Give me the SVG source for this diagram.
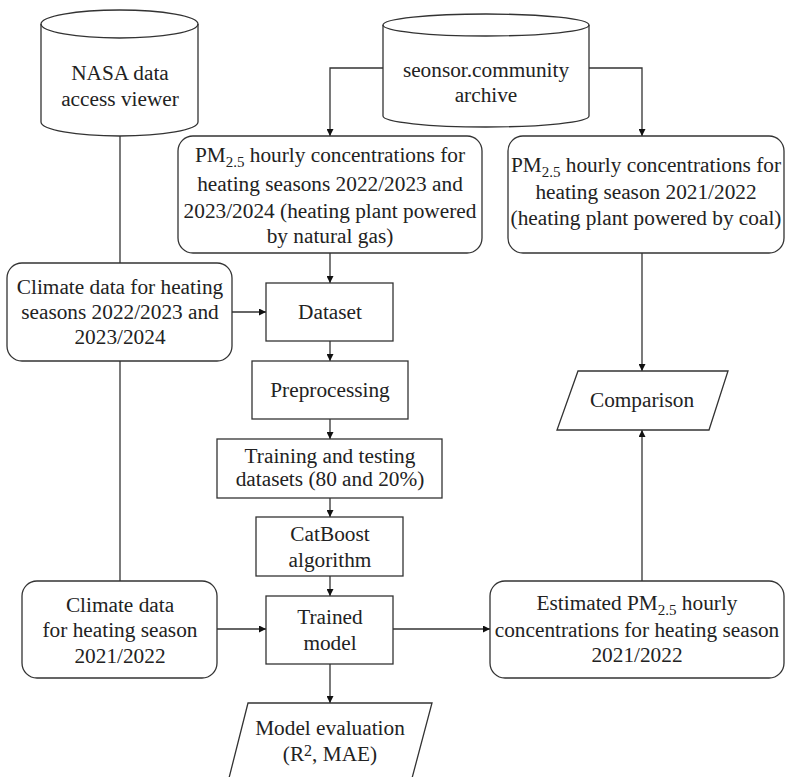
<svg xmlns="http://www.w3.org/2000/svg" width="786" height="777" viewBox="0 0 786 777" font-family="'Liberation Serif', 'Times New Roman', serif">
<style>
.s{fill:#fff;stroke:#333;stroke-width:1.3}
.c{fill:none;stroke:#333;stroke-width:1.3}
text{font-family:"Liberation Serif","Times New Roman",serif;font-size:21.3px;fill:#222;text-anchor:middle}
.sub{font-size:15px}
.sup{font-size:16px}
</style>
<defs>
<marker id="a" viewBox="0 0 10 10" refX="10" refY="5" markerWidth="7" markerHeight="7" markerUnits="userSpaceOnUse" orient="auto">
<path d="M0,0L10,5L0,10z" fill="#111"/>
</marker>
</defs>
<rect width="786" height="777" fill="#fff"/>
<g id="connectors">
<path class="c" d="M120,136V581"/>
<path class="c" d="M383,68H330V136" marker-end="url(#a)"/>
<path class="c" d="M589,68H642V136" marker-end="url(#a)"/>
<path class="c" d="M330,253V283" marker-end="url(#a)"/>
<path class="c" d="M232,312H266" marker-end="url(#a)"/>
<path class="c" d="M330,341V361" marker-end="url(#a)"/>
<path class="c" d="M330,419V439" marker-end="url(#a)"/>
<path class="c" d="M330,498V517" marker-end="url(#a)"/>
<path class="c" d="M330,576V596" marker-end="url(#a)"/>
<path class="c" d="M217,629H266" marker-end="url(#a)"/>
<path class="c" d="M393,629H490" marker-end="url(#a)"/>
<path class="c" d="M330,664V703" marker-end="url(#a)"/>
<path class="c" d="M642,253V371" marker-end="url(#a)"/>
<path class="c" d="M642,581V430" marker-end="url(#a)"/>
</g>
<g id="nasa">
<path class="s" d="M41,24A78.5,14 0 0 1 198,24V122A78.5,14 0 0 1 41,122Z"/>
<path class="c" d="M41,24A78.5,14 0 0 0 198,24"/>
<text x="120" y="80">NASA data</text>
<text x="120" y="106">access viewer</text>
</g>
<g id="sensor">
<path class="s" d="M383,25A103,11 0 0 1 589,25V116A103,11 0 0 1 383,116Z"/>
<path class="c" d="M383,25A103,11 0 0 0 589,25"/>
<text x="486" y="77">seonsor.community</text>
<text x="486" y="102">archive</text>
</g>
<g id="pm-gas">
<rect class="s" x="178" y="136" width="304" height="117" rx="15"/>
<text x="330" y="162">PM<tspan class="sub" dy="5">2.5</tspan><tspan dy="-5"> hourly concentrations for</tspan></text>
<text x="330" y="191">heating seasons 2022/2023 and</text>
<text x="330" y="218">2023/2024 (heating plant powered</text>
<text x="330" y="243">by natural gas)</text>
</g>
<g id="pm-coal">
<rect class="s" x="508" y="136" width="276" height="117" rx="15"/>
<text x="646" y="172">PM<tspan class="sub" dy="5">2.5</tspan><tspan dy="-5"> hourly concentrations for</tspan></text>
<text x="646" y="199">heating season 2021/2022</text>
<text x="646" y="225">(heating plant powered by coal)</text>
</g>
<g id="climate-train">
<rect class="s" x="7" y="263" width="225" height="98" rx="15"/>
<text x="120" y="294">Climate data for heating</text>
<text x="120" y="319">seasons 2022/2023 and</text>
<text x="120" y="344">2023/2024</text>
</g>
<g id="dataset">
<rect class="s" x="266" y="283" width="127" height="58"/>
<text x="330" y="319">Dataset</text>
</g>
<g id="preprocessing">
<rect class="s" x="252" y="361" width="156" height="58"/>
<text x="330" y="397">Preprocessing</text>
</g>
<g id="training">
<rect class="s" x="217" y="439" width="225" height="59"/>
<text x="330" y="463">Training and testing</text>
<text x="330" y="486">datasets (80 and 20%)</text>
</g>
<g id="catboost">
<rect class="s" x="256" y="517" width="147" height="59"/>
<text x="330" y="541">CatBoost</text>
<text x="330" y="567">algorithm</text>
</g>
<g id="trained">
<rect class="s" x="266" y="596" width="127" height="68"/>
<text x="330" y="624">Trained</text>
<text x="330" y="650">model</text>
</g>
<g id="climate-test">
<rect class="s" x="22" y="581" width="195" height="97" rx="15"/>
<text x="120" y="612">Climate data</text>
<text x="120" y="637">for heating season</text>
<text x="120" y="663">2021/2022</text>
</g>
<g id="estimated">
<rect class="s" x="490" y="581" width="294" height="97" rx="15"/>
<text x="637" y="610">Estimated PM<tspan class="sub" dy="5">2.5</tspan><tspan dy="-5"> hourly</tspan></text>
<text x="637" y="637">concentrations for heating season</text>
<text x="637" y="662">2021/2022</text>
</g>
<g id="comparison">
<polygon class="s" points="578,371 728,371 709,430 557,430"/>
<text x="642" y="407">Comparison</text>
</g>
<g id="evaluation">
<polygon class="s" points="248,703 432,703 411,782 228,782"/>
<text x="330" y="735">Model evaluation</text>
<text x="330" y="761">(R<tspan class="sup" dy="-5">2</tspan><tspan dy="5">, MAE)</tspan></text>
</g>
</svg>
